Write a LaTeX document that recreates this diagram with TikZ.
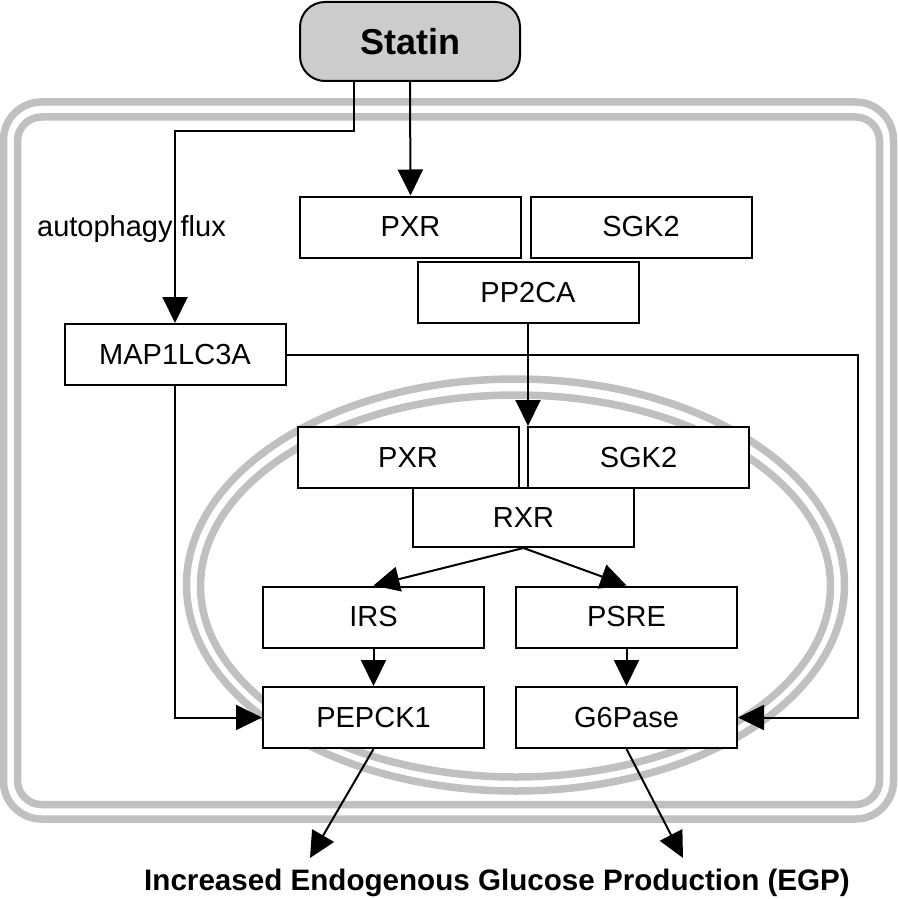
\documentclass[tikz,border=0pt]{standalone}
\usepackage{fontspec}
\setmainfont{Liberation Sans}
\usetikzlibrary{positioning,arrows.meta}
\definecolor{ringgray}{RGB}{192,192,192}
\definecolor{statingray}{RGB}{204,204,204}

\begin{document}
\begin{tikzpicture}[
x=0.5pt, y=-0.5pt,
font=\fontsize{14.5}{17}\selectfont,
ring/.style={draw=ringgray, line width=3.75pt},
gene/.style={draw, fill=white, line width=1pt, minimum width=110.5pt, minimum height=30.5pt, inner sep=0pt},
arr/.style={line width=1pt, -{Triangle[width=12.5pt,length=13pt]}},
link/.style={line width=1pt}]

\useasboundingbox (0,0) rectangle (898,899);

% cell and nucleus
\draw[ring, rounded corners=19pt] (3.5,102) rectangle (893.5,819);
\draw[ring, rounded corners=12pt] (17.5,117) rectangle (879.5,804.5);
\draw[ring] (515.5,585) ellipse [x radius=164.5pt, y radius=103pt];
\draw[ring] (515.5,586) ellipse [x radius=157.5pt, y radius=95.5pt];

\node[draw, fill=statingray, line width=1pt, rounded corners=12.5pt, minimum width=110pt, minimum height=39.5pt, font=\fontsize{18}{21}\selectfont\bfseries] (statin) at (410,41.5) {Statin};

\node[gene] (pxra) at (410.5,227) {PXR};
\node[gene] (sgka) at (641,227) {SGK2};
\node[gene] (pp2ca) at (528,292.5) {PP2CA};
\node[gene] (map) at (175,354.5) {MAP1LC3A};
\node (flux) at (131.5,229) {autophagy flux};

\node[gene] (pxrb) at (408,457.5) {PXR};
\node[gene] (sgkb) at (638.5,457.5) {SGK2};
\node[gene, minimum height=29.5pt] (rxr) at (523.5,517.5) {RXR};
\node[gene] (irs) at (373.5,617) {IRS};
\node[gene] (psre) at (626.5,617) {PSRE};
\node[gene] (pepck) at (373.5,717.5) {PEPCK1};
\node[gene] (gsix) at (626.5,717.5) {G6Pase};

\node[font=\fontsize{14.8}{17}\selectfont\bfseries] (egp) at (497,883) {Increased Endogenous Glucose Production (EGP)};
\coordinate (egpl) at (310,858);
\coordinate (egpr) at (683,858);

% connectors
\draw[arr] ([xshift=-28pt]statin.south) -- ++(0,49) -| (map.north);
\draw[arr] (statin.south) -- (pxra.north);
\draw[arr] (pp2ca.south) -- (pp2ca.south |- sgkb.north);
\draw[arr] (map.east) -| ([xshift=60pt]gsix.east) -- (gsix.east);
\draw[arr] (map.south) |- (pepck.west);
\draw[arr] (rxr.south) -- (irs.north);
\draw[arr] (rxr.south) -- (psre.north);
\draw[arr] (irs.south) -- (pepck.north);
\draw[arr] (psre.south) -- (gsix.north);
\draw[arr] (pepck.south) -- (egpl);
\draw[arr] (gsix.south) -- (egpr);
\end{tikzpicture}
\end{document}
